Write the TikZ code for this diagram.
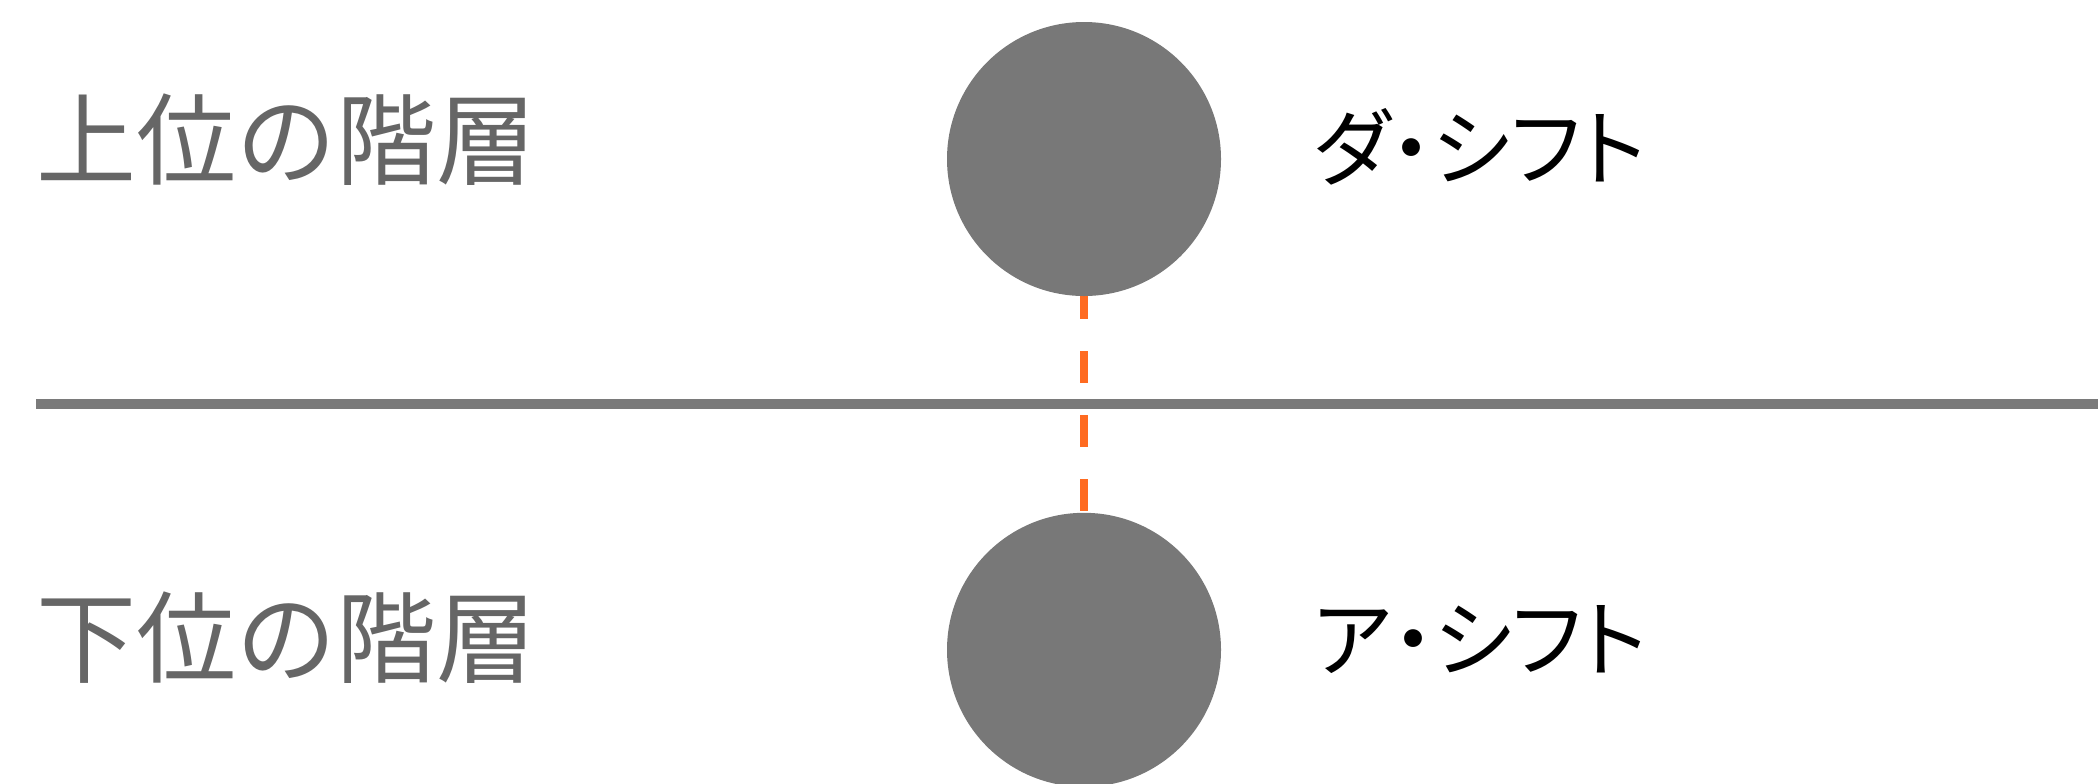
\documentclass[tikz,border=0pt]{standalone}
\usepackage{fontspec}
\newfontfamily\jpfont{Noto Sans CJK JP}
\newfontfamily\jppropfont[RawFeature=+palt]{Noto Sans CJK JP}
\usetikzlibrary{positioning,backgrounds}
\definecolor{dotgray}{RGB}{120,120,120}
\definecolor{linegray}{RGB}{122,122,122}
\definecolor{textgray}{RGB}{102,102,102}
\definecolor{linkorange}{RGB}{255,107,33}
\tikzset{
  ball/.style={circle, fill=dotgray, minimum size=137pt, inner sep=0pt},
  layerlabel/.style={inner sep=0pt, anchor=west, text=textgray,
                     font=\jpfont\fontsize{50pt}{60pt}\selectfont},
  shiftlabel/.style={inner sep=0pt, font=\jppropfont\fontsize{42pt}{50pt}\selectfont},
}

\begin{document}
\begin{tikzpicture}[
    x=0.5pt, y=-0.5pt,
    node distance=108pt and 46pt,
    sepline/.style={line width=5pt, color=linegray},
    link/.style={line width=4pt, color=linkorange, dash pattern=on 16pt off 16pt}
  ]
    \useasboundingbox (0,0) rectangle (2098,783);
    \node[ball] (upper) at (1084,159) {};
    \node[ball, below=of upper] (lower) {};
    \node[layerlabel] (upperlbl) at (36,140) {上位の階層};
    \node[layerlabel] (lowerlbl) at (36,638) {下位の階層};
    \node[shiftlabel, right=of upper, yshift=6pt] (upshift) {ダ・シフト};
    \node[shiftlabel, right=of lower, yshift=5pt] (lowshift) {ア・シフト};
    \coordinate (sepL) at (36,404);
    \coordinate (sepR) at (2098,404);
    \begin{pgfonlayer}{background}
      \draw[link] (upper.center) -- (lower.center);
      \draw[sepline] (sepL) -- (sepR);
    \end{pgfonlayer}
  \end{tikzpicture}
\end{document}
